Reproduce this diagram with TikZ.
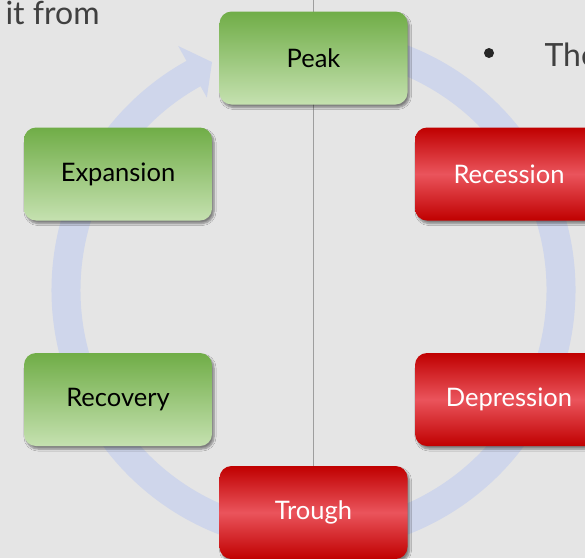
\documentclass[tikz,border=0pt]{standalone}
\usepackage{fontspec}
\setmainfont{Lato}
\usetikzlibrary{shadows.blur}
\definecolor{bg}{HTML}{E5E5E5}
\definecolor{ringblue}{HTML}{CFD6EB}
\definecolor{gdark}{HTML}{70AD47}
\definecolor{glight}{HTML}{C5E1B0}
\definecolor{rdark}{HTML}{C00000}
\definecolor{rlight}{HTML}{EA545C}
\tikzset{
    phase/.style = {rounded corners = 12pt, minimum width = 188pt, minimum height = 93pt,
        inner sep = 0pt, font = \fontsize{25.5}{30}\selectfont,
        blur shadow = {shadow xshift = 2pt, shadow yshift = -3pt, shadow opacity = 45, shadow blur steps = 6}},
    up/.style = {phase, top color = gdark, bottom color = glight, text = black},
    down/.style = {phase, top color = rdark, bottom color = rdark, middle color = rlight, text = white},
    ring/.style = {draw = ringblue, line width = 29pt},
    divider/.style = {draw = black!38, line width = 1.6pt}
}
\begin{document}
\begin{tikzpicture}[x = 1pt, y = -1pt]
            \useasboundingbox (0,0) rectangle (585,558);
            \fill[bg] (0,0) rectangle (585,558);
            \coordinate (ctr) at (313.5,290);
            \coordinate (top) at (313.5,0);
            \node[anchor = base west, text = black!75, font = \fontsize{32}{36}\selectfont] (prev) at (2,24) {it from};
            \fill[black!85] (489,53) circle[radius = 5];
            \node[anchor = base west, text = black!75, font = \fontsize{32}{36}\selectfont] (bullet) at (541,66.5) {The};
            \begin{scope}
                \draw[ring] ([shift = {(ctr)}]-85:247.5) arc[start angle = -85, end angle = 241.5, radius = 247.5];
                \fill[ringblue] ([shift = {(ctr)}]241:279) -- ([shift = {(ctr)}]246:249.5) -- ([shift = {(ctr)}]241:220) -- cycle;
            \end{scope}
            \node[down] (trough) at (313.5,512.5) {Trough};
            \draw[divider] (top) -- (trough.north);
            \node[up] (peak) at (313.5,58) {Peak};
            \node[up] (expansion) at (118,174) {Expansion};
            \node[up] (recovery) at (118,399.5) {Recovery};
            \node[down] (recession) at (509,174) {Recession};
            \node[down] (depression) at (509,399.5) {Depression};
        \end{tikzpicture}
\end{document}
